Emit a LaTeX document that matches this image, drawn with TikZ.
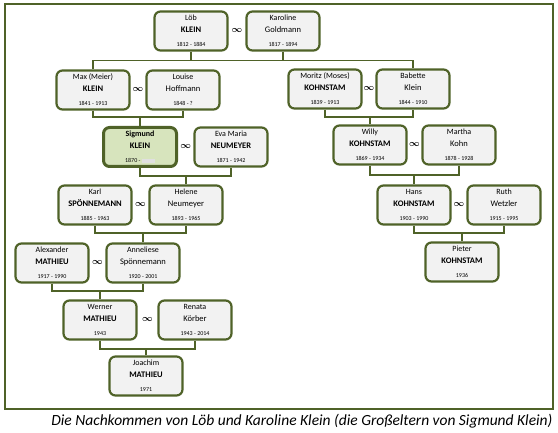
\documentclass[tikz,border=0pt]{standalone}
\usepackage{amsmath}
\usepackage{fontspec}
\setmainfont{Carlito}
\usetikzlibrary{calc}
\definecolor{olive}{HTML}{4F6228}
\definecolor{boxgray}{HTML}{F2F2F2}
\definecolor{siggreen}{HTML}{D7E4BD}
\newcommand{\pers}[3]{{\fontsize{8}{9}\selectfont #1}\\[0pt]{\fontsize{8.5}{10}\selectfont #2}\\[2pt]{\fontsize{6}{6}\selectfont #3}}
\tikzset{
    person/.style={draw=olive, line width=2.2pt, rounded corners=6pt, fill=boxgray,
        minimum width=73pt, minimum height=39pt, align=center, inner sep=1pt},
    tie/.style={draw=olive, line width=1.6pt}
}
\begin{document}
\begin{tikzpicture}[x=1pt, y=-1pt]
        \useasboundingbox (0,0) rectangle (558,433);
        \draw [olive, line width=2pt] (5,4) rectangle (553,409);
        % generation 1
        \node [person] (loeb) at (191,31) {\pers{Löb}{\textbf{KLEIN}}{1812 - 1884}};
        \node [person] (karoline) at (283,31) {\pers{Karoline}{Goldmann}{1817 - 1894}};
        % generation 2
        \node [person] (max) at (93,90) {\pers{Max (Meier)}{\textbf{KLEIN}}{1841 - 1913}};
        \node [person] (louise) at (183,90) {\pers{Louise}{Hoffmann}{1848 - ?}};
        \node [person] (moritz) at (325,89) {\pers{Moritz (Moses)}{\textbf{KOHNSTAM}}{1839 - 1913}};
        \node [person] (babette) at (413,89) {\pers{Babette}{Klein}{1844 - 1910}};
        % generation 3
        \node [person, fill=siggreen, line width=3pt] (sigmund) at (140,147)
            {\pers{\textbf{Sigmund}}{\textbf{KLEIN}}{1870 - {\color{black!12}\rule[-0.5pt]{13pt}{4pt}}}};
        \node [person] (eva) at (231,147) {\pers{Eva Maria}{\textbf{NEUMEYER}}{1871 - 1942}};
        \node [person] (willy) at (370,145) {\pers{Willy}{\textbf{KOHNSTAM}}{1869 - 1934}};
        \node [person] (martha) at (459,145) {\pers{Martha}{Kohn}{1878 - 1928}};
        % generation 4
        \node [person] (karl) at (95,205) {\pers{Karl}{\textbf{SPÖNNEMANN}}{1885 - 1963}};
        \node [person] (helene) at (186,205) {\pers{Helene}{Neumeyer}{1893 - 1965}};
        \node [person] (hans) at (414,205) {\pers{Hans}{\textbf{KOHNSTAM}}{1903 - 1990}};
        \node [person] (ruth) at (504,205) {\pers{Ruth}{Wetzler}{1915 - 1995}};
        % generation 5
        \node [person] (alexander) at (52,263) {\pers{Alexander}{\textbf{MATHIEU}}{1917 - 1990}};
        \node [person] (anneliese) at (143,263) {\pers{Anneliese}{Spönnemann}{1920 - 2001}};
        \node [person] (pieter) at (462,262) {\pers{Pieter}{\textbf{KOHNSTAM}}{1936}};
        % generation 6
        \node [person] (werner) at (100,320) {\pers{Werner}{\textbf{MATHIEU}}{1943}};
        \node [person] (renata) at (195,320) {\pers{Renata}{Körber}{1943 - 2014}};
        % generation 7
        \node [person] (joachim) at (146,376) {\pers{Joachim}{\textbf{MATHIEU}}{1971}};
        % marriages
        \foreach \a/\b in {loeb/karoline,max/louise,moritz/babette,sigmund/eva,willy/martha,
                karl/helene,hans/ruth,alexander/anneliese,werner/renata}
            \node [font=\small] (m-\a) at ($(\a.east)!0.5!(\b.west)$) {$\boldsymbol{\infty}$};
        % descent lines
        \draw [tie] (loeb.south) -- ++(0,9) coordinate (bar1);
        \draw [tie] (karoline.south) -- ++(0,9);
        \draw [tie] (max.north) |- (bar1) -| (babette.north);
        \foreach \a/\b/\c/\y in {max/louise/sigmund/117,moritz/babette/willy/117,
                sigmund/eva/helene/176,willy/martha/hans/175,karl/helene/anneliese/233,
                hans/ruth/pieter/233,alexander/anneliese/werner/291,werner/renata/joachim/349}
            \draw [tie] (\a.south) -- (\a.south |- 0,\y) -- (\b.south |- 0,\y) -- (\b.south)
                (\c.north) -- (\c.north |- 0,\y);
        \node [anchor=east, font=\fontsize{15.5}{17}\selectfont\itshape] (caption) at (556,421)
            {Die Nachkommen von Löb und Karoline Klein (die Großeltern von Sigmund Klein)};
    \end{tikzpicture}
\end{document}
